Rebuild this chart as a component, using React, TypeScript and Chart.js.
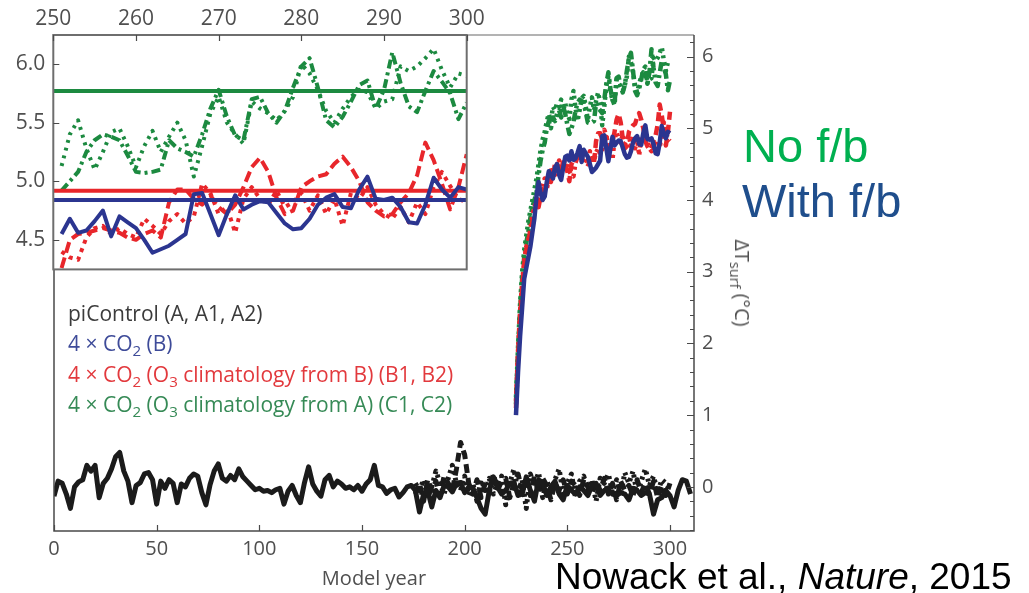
import React, { useEffect, useRef } from "react";
import { Chart, registerables } from "chart.js";

Chart.register(...registerables);

// ---------------- data ----------------
const yearsFrom = (start: number, count: number, step = 1) =>
  Array.from({ length: count }, (_, i) => start + i * step);

// piControl (A) — every 2 model years, 0..310
const PI_YEARS = yearsFrom(0, 156, 2);
const PI_A = [
  -0.13, 0.08, 0.05, -0.1, -0.3, 0.0, 0.07, 0.1, 0.3, 0.22,
  0.3, -0.15, 0.05, 0.12, 0.25, 0.42, 0.48, 0.22, 0.08, -0.22,
  0.02, 0.06, 0.18, 0.2, 0.1, -0.24, 0.08, -0.02, 0.1, 0.05,
  -0.22, 0.04, 0.0, 0.12, 0.18, 0.15, -0.08, -0.25, 0.03, 0.22,
  0.32, 0.12, 0.08, 0.16, 0.1, 0.25, 0.14, 0.08, 0.02, -0.04,
  -0.02, -0.06, -0.05, -0.08, -0.04, -0.02, -0.24, -0.06, 0.02, -0.12,
  -0.22, 0.06, 0.28, 0.04, -0.06, -0.13, 0.1, 0.16, 0.0, 0.08,
  0.04, -0.02, 0.0, -0.04, 0.02, -0.06, 0.04, 0.1, 0.3, 0.02,
  0.0, -0.09, -0.04, -0.02, -0.14, -0.08, 0.0, 0.02, -0.05, -0.35,
  -0.1, -0.05, -0.28, -0.05, -0.15, 0.02, 0.0, -0.07, 0.05, 0.06,
  -0.08, 0.0, -0.02, -0.15, -0.3, -0.38, -0.05, 0.14, 0.0, -0.1,
  -0.05, 0.05, 0.06, -0.12, -0.1, 0.14, -0.05, -0.2, 0.1, 0.06,
  -0.12, 0.0, 0.08, -0.1, -0.18, 0.02, -0.05, -0.1, 0.0, -0.05,
  -0.12, 0.02, 0.05, -0.12, -0.05, -0.04, -0.1, -0.12, -0.08, -0.1,
  -0.18, -0.02, -0.05, -0.12, -0.08, -0.1, -0.38, -0.18, -0.15, -0.05,
  -0.12, -0.28, -0.05, 0.1, 0.08, -0.1,
];

// piControl A1 (dotted) and A2 (dashed) — every 2 years, 176..300
const PI_A12_YEARS = yearsFrom(176, 63, 2);
const PI_A1 = [
  0.05, -0.05, 0.1, -0.15, 0.0, 0.22, 0.05, -0.1, 0.12, 0.3,
  0.05, -0.05, 0.15, -0.12, 0.05, -0.2, 0.1, -0.05, 0.12, -0.1,
  0.05, 0.15, -0.25, 0.05, 0.25, -0.08, 0.1, -0.3, 0.18, 0.02,
  0.2, -0.15, 0.08, -0.05, 0.1, 0.25, -0.1, 0.05, 0.18, -0.15,
  0.08, 0.15, -0.05, 0.1, -0.2, 0.12, 0.05, 0.18, -0.08, 0.1,
  -0.12, 0.2, 0.05, 0.22, -0.1, 0.08, 0.25, 0.02, 0.15, -0.08,
  0.1, 0.05, -0.05,
];
const PI_A2 = [
  -0.1, 0.05, -0.2, 0.1, -0.05, 0.08, -0.12, 0.15, 0.05, -0.05,
  0.25, 0.62, 0.45, 0.05, -0.1, 0.1, -0.15, 0.05, -0.08, 0.18,
  -0.05, 0.08, 0.12, -0.15, 0.05, 0.18, -0.05, 0.08, -0.12, 0.15,
  -0.08, 0.12, 0.02, -0.18, 0.05, -0.05, 0.1, -0.1, 0.08, 0.02,
  -0.12, 0.1, 0.0, -0.1, 0.08, -0.05, 0.12, -0.1, 0.05, -0.18,
  0.08, -0.05, 0.02, -0.12, 0.1, -0.08, 0.05, -0.1, 0.08, -0.15,
  0.02, -0.12, 0.05,
];

// 4xCO2 runs: years 225..250 (main panel only) and 251..300 (main + inset)
const EARLY_YEARS = yearsFrom(225, 26);
const INSET_YEARS = yearsFrom(251, 50);

const B_EARLY = [1.0, 1.6, 2.1, 2.5, 2.9, 3.05, 3.2, 3.35, 3.55, 3.75, 4.05, 4.25, 4.1, 4.0, 4.05, 4.25, 4.4, 4.35, 4.3, 4.45, 4.5, 4.35, 4.28, 4.45, 4.6, 4.62];
const B_INSET = [
  4.55, 4.68, 4.56, 4.58, 4.66, 4.75, 4.53, 4.7, 4.65, 4.6,
  4.5, 4.39, 4.42, 4.45, 4.5, 4.55, 4.89, 4.9, 4.72, 4.54,
  4.72, 4.88, 4.76, 4.8, 4.83, 4.82, 4.73, 4.64, 4.59, 4.6,
  4.68, 4.8, 4.86, 4.89, 4.78, 4.77, 4.93, 5.04, 4.85, 4.84,
  4.86, 4.78, 4.65, 4.64, 4.8, 5.03, 4.93, 4.86, 4.95, 4.93,
];

const B1_EARLY = [1.1, 1.8, 2.35, 2.75, 3.1, 3.3, 3.45, 3.55, 3.7, 3.85, 3.95, 3.9, 4.05, 4.15, 4.1, 4.2, 4.35, 4.25, 4.4, 4.35, 4.5, 4.45, 4.4, 4.55, 4.5, 4.4];
const B1_INSET = [
  4.26, 4.5, 4.55, 4.56, 4.58, 4.6, 4.58, 4.56, 4.52, 4.5,
  4.55, 4.58, 4.52, 4.82, 4.93, 4.93, 4.85, 4.8, 4.88, 4.78,
  4.72, 4.8, 4.95, 5.12, 5.2, 5.08, 4.86, 4.72, 4.75, 4.95,
  5.0, 5.04, 5.06, 5.15, 5.21, 5.12, 5.0, 4.82, 4.75, 4.7,
  4.72, 4.82, 4.9, 5.05, 5.33, 5.18, 4.98, 4.76, 4.95, 5.23,
];
const B2_EARLY = [1.2, 1.9, 2.45, 2.85, 3.15, 3.35, 3.4, 3.6, 3.8, 3.9, 4.0, 4.1, 3.95, 4.2, 4.3, 4.15, 4.3, 4.45, 4.35, 4.5, 4.4, 4.55, 4.5, 4.45, 4.6, 4.45];
const B2_INSET = [
  4.4, 4.35, 4.33, 4.52, 4.6, 4.62, 4.55, 4.6, 4.55, 4.52,
  4.68, 4.62, 4.55, 4.66, 4.72, 4.64, 4.7, 4.98, 4.9, 4.72,
  4.78, 4.56, 4.85, 4.95, 4.85, 4.8, 4.92, 4.78, 4.82, 4.9,
  4.75, 4.88, 4.72, 4.85, 4.62, 4.9, 4.85, 4.95, 4.8, 4.72,
  4.68, 4.78, 4.65, 4.82, 4.72, 4.95, 5.08, 4.96, 4.85, 4.82,
];

const C1_EARLY = [1.15, 1.85, 2.45, 2.9, 3.2, 3.4, 3.55, 3.75, 3.9, 4.0, 4.1, 4.35, 4.55, 4.7, 4.8, 5.0, 5.1, 5.0, 5.15, 5.1, 5.2, 5.25, 5.15, 5.3, 5.2, 5.05];
const C1_INSET = [
  4.92, 5.0, 5.08, 5.25, 5.35, 5.4, 5.38, 5.35, 5.22, 5.08,
  5.07, 5.08, 5.1, 5.35, 5.28, 5.25, 5.21, 5.4, 5.62, 5.78,
  5.55, 5.39, 5.35, 5.7, 5.72, 5.58, 5.5, 5.6, 5.8, 5.98,
  6.05, 5.8, 5.52, 5.46, 5.55, 5.68, 5.82, 5.86, 5.62, 5.78,
  6.1, 5.84, 5.64, 5.59, 5.77, 5.94, 5.85, 5.75, 5.53, 5.67,
];
const C2_EARLY = [1.25, 1.95, 2.55, 3.0, 3.3, 3.5, 3.7, 3.85, 4.0, 4.15, 4.3, 4.5, 4.7, 4.85, 4.95, 5.1, 5.2, 5.1, 5.3, 5.25, 5.35, 5.3, 5.4, 5.25, 5.35, 5.2];
const C2_INSET = [
  5.13, 5.4, 5.52, 5.28, 5.1, 5.25, 5.42, 5.45, 5.3, 5.12,
  5.3, 5.43, 5.25, 5.38, 5.5, 5.35, 5.04, 5.3, 5.58, 5.72,
  5.5, 5.4, 5.32, 5.68, 5.62, 5.58, 5.52, 5.6, 5.72, 6.0,
  5.92, 5.78, 5.6, 5.5, 5.62, 5.72, 5.78, 5.76, 5.62, 5.68,
  5.7, 5.98, 5.94, 5.98, 6.05, 6.13, 5.95, 5.8, 5.92, 5.9,
];

// inset means (years 250-300)
const MEAN_YEARS = [250, 300];
const MEAN_B = 4.84;
const MEAN_B12 = 4.92;
const MEAN_C12 = 5.77;

// ticks
const MAIN_X_TICKS = [0, 50, 100, 150, 200, 250, 300];
const MAIN_Y_TICKS = [0, 1, 2, 3, 4, 5, 6];
const INSET_X_TICKS = [250, 260, 270, 280, 290, 300];
const INSET_Y_TICKS = [4.5, 5.0, 5.5, 6.0];

// ---------------- style ----------------
const BLUE = "#2b3590";
const RED = "#e8262b";
const GREEN = "#1c8a40";
const BLACK = "#1b1b1b";
const TICK_FONT = "'Open Sans', 'Noto Sans', sans-serif";
const TICK_COLOR = "#4f4f4f";

const zip = (xs: number[], ys: number[]) => ys.map((y, i) => ({ x: xs[i], y }));

const mainFrame = {
  id: "mainFrame",
  afterDatasetsDraw(chart: any) {
    const { ctx, chartArea: a, scales } = chart;
    const x = scales.x;
    const y = scales.y;
    ctx.save();
    ctx.lineWidth = 1.5;
    ctx.strokeStyle = "#9a9a9a";
    ctx.beginPath();
    ctx.moveTo(a.left, a.top);
    ctx.lineTo(a.right, a.top);
    ctx.stroke();
    ctx.strokeStyle = "#4a4a4a";
    ctx.beginPath();
    ctx.moveTo(a.left, a.top);
    ctx.lineTo(a.left, a.bottom);
    ctx.lineTo(a.right, a.bottom);
    ctx.lineTo(a.right, a.top);
    ctx.stroke();
    ctx.lineWidth = 1.2;
    ctx.beginPath();
    MAIN_X_TICKS.forEach((v) => {
      const px = Math.round(x.getPixelForValue(v)) + 0.5;
      ctx.moveTo(px, a.bottom);
      ctx.lineTo(px, a.bottom - 6);
    });
    for (let i = -3; i <= 31; i++) {
      const v = i / 5;
      if (v < y.min || v > y.max) continue;
      const py = Math.round(y.getPixelForValue(v)) + 0.5;
      const len = i % 5 === 0 ? 7 : 4;
      ctx.moveTo(a.right, py);
      ctx.lineTo(a.right - len, py);
    }
    ctx.stroke();
    ctx.restore();
  },
};

const insetFrame = {
  id: "insetFrame",
  beforeDatasetsDraw(chart: any) {
    const { ctx, chartArea: a } = chart;
    ctx.save();
    ctx.fillStyle = "#ffffff";
    ctx.fillRect(a.left, a.top, a.right - a.left, a.bottom - a.top);
    ctx.restore();
  },
  afterDatasetsDraw(chart: any) {
    const { ctx, chartArea: a, scales } = chart;
    ctx.save();
    ctx.lineWidth = 2;
    ctx.strokeStyle = "#6e6e6e";
    ctx.strokeRect(a.left, a.top, a.right - a.left, a.bottom - a.top);
    ctx.lineWidth = 1.2;
    ctx.strokeStyle = "#4a4a4a";
    ctx.beginPath();
    INSET_X_TICKS.forEach((v) => {
      const px = Math.round(scales.x.getPixelForValue(v)) + 0.5;
      ctx.moveTo(px, a.top);
      ctx.lineTo(px, a.top + 6);
    });
    INSET_Y_TICKS.forEach((v) => {
      const py = Math.round(scales.y.getPixelForValue(v)) + 0.5;
      ctx.moveTo(a.left, py);
      ctx.lineTo(a.left + 6, py);
    });
    ctx.stroke();
    ctx.restore();
  },
};

const line = (data: any[], color: string, dash: number[] = [], width = 4) => ({
  data,
  borderColor: color,
  borderWidth: width,
  borderDash: dash,
  pointRadius: 0,
  tension: 0,
  fill: false,
  borderJoinStyle: "round" as const,
});

export default function App() {
  const mainRef = useRef<HTMLCanvasElement>(null);
  const insetRef = useRef<HTMLCanvasElement>(null);

  useEffect(() => {
    const co2Years = [...EARLY_YEARS, ...INSET_YEARS];
    const main = new Chart(mainRef.current as HTMLCanvasElement, {
      type: "line",
      data: {
        datasets: [
          line(zip(co2Years, [...B_EARLY, ...B_INSET]), BLUE, [], 4.5),
          line(zip(co2Years, [...B1_EARLY, ...B1_INSET]), RED, [9, 5], 4.5),
          line(zip(co2Years, [...B2_EARLY, ...B2_INSET]), RED, [3, 4], 4.5),
          line(zip(co2Years, [...C1_EARLY, ...C1_INSET]), GREEN, [9, 4, 3, 4], 4.5),
          line(zip(co2Years, [...C2_EARLY, ...C2_INSET]), GREEN, [3, 4], 4.5),
          line(zip(PI_YEARS, PI_A), BLACK, [], 5),
          line(zip(PI_A12_YEARS, PI_A1), BLACK, [3, 4], 5),
          line(zip(PI_A12_YEARS, PI_A2), BLACK, [9, 5], 5),
        ] as any,
      },
      options: {
        responsive: false,
        animation: false,
        events: [],
        layout: { padding: { left: 54, top: 35, right: 0, bottom: 0 } },
        plugins: { legend: { display: false }, tooltip: { enabled: false } },
        scales: {
          x: {
            type: "linear",
            position: "bottom",
            min: 0,
            max: 311.7,
            afterFit: (s: any) => {
              s.height = 62;
            },
            afterBuildTicks: (s: any) => {
              s.ticks = MAIN_X_TICKS.map((v) => ({ value: v }));
            },
            grid: { display: false, drawTicks: false },
            border: { display: false },
            ticks: {
              padding: 6,
              autoSkip: false,
              maxRotation: 0,
              color: TICK_COLOR,
              font: { family: TICK_FONT, size: 20 },
              callback: (v: any) => String(v),
            },
          },
          y: {
            type: "linear",
            position: "right",
            min: -0.615,
            max: 6.3,
            afterFit: (s: any) => {
              s.width = 335;
            },
            afterBuildTicks: (s: any) => {
              s.ticks = MAIN_Y_TICKS.map((v) => ({ value: v }));
            },
            grid: { display: false, drawTicks: false },
            border: { display: false },
            ticks: {
              padding: 8,
              color: TICK_COLOR,
              font: { family: TICK_FONT, size: 20 },
              callback: (v: any) => String(v),
            },
          },
        },
      } as any,
      plugins: [mainFrame],
    });

    const inset = new Chart(insetRef.current as HTMLCanvasElement, {
      type: "line",
      data: {
        datasets: [
          line(zip(INSET_YEARS, B_INSET), BLUE),
          line(zip(MEAN_YEARS, [MEAN_B, MEAN_B]), BLUE),
          line(zip(MEAN_YEARS, [MEAN_B12, MEAN_B12]), RED),
          line(zip(MEAN_YEARS, [MEAN_C12, MEAN_C12]), GREEN),
          line(zip(INSET_YEARS, B1_INSET), RED, [11, 5]),
          line(zip(INSET_YEARS, B2_INSET), RED, [4, 5]),
          line(zip(INSET_YEARS, C1_INSET), GREEN, [9, 4, 3, 4]),
          line(zip(INSET_YEARS, C2_INSET), GREEN, [3, 5]),
        ] as any,
      },
      options: {
        responsive: false,
        animation: false,
        events: [],
        layout: { padding: { left: 0, top: 0, right: 33.3, bottom: 7 } },
        plugins: { legend: { display: false }, tooltip: { enabled: false } },
        scales: {
          x: {
            type: "linear",
            position: "top",
            min: 250,
            max: 300,
            afterFit: (s: any) => {
              s.height = 35;
            },
            afterBuildTicks: (s: any) => {
              s.ticks = INSET_X_TICKS.map((v) => ({ value: v }));
            },
            grid: { display: false, drawTicks: false },
            border: { display: false },
            ticks: {
              padding: 3,
              autoSkip: false,
              maxRotation: 0,
              color: TICK_COLOR,
              font: { family: TICK_FONT, size: 21 },
              callback: (v: any) => String(v),
            },
          },
          y: {
            type: "linear",
            position: "left",
            min: 4.248,
            max: 6.248,
            afterFit: (s: any) => {
              s.width = 53.3;
            },
            afterBuildTicks: (s: any) => {
              s.ticks = INSET_Y_TICKS.map((v) => ({ value: v }));
            },
            grid: { display: false, drawTicks: false },
            border: { display: false },
            ticks: {
              padding: 8,
              color: TICK_COLOR,
              font: { family: TICK_FONT, size: 21 },
              callback: (v: any) => Number(v).toFixed(1),
            },
          },
        },
      } as any,
      plugins: [insetFrame],
    });

    return () => {
      main.destroy();
      inset.destroy();
    };
  }, []);

  const legendStyle: React.CSSProperties = {
    position: "absolute",
    left: 68,
    top: 298,
    fontFamily: TICK_FONT,
    fontSize: 21,
    lineHeight: "30.3px",
    whiteSpace: "nowrap",
  };
  const sub: React.CSSProperties = { fontSize: "0.72em", verticalAlign: "-0.35em", lineHeight: 0 };

  return (
    <div style={{ position: "absolute", left: 0, top: 0, width: 1029, height: 593, background: "#ffffff", overflow: "hidden" }}>
      <canvas ref={mainRef} width={1029} height={593} style={{ position: "absolute", left: 0, top: 0 }} />
      <canvas ref={insetRef} width={500} height={290} style={{ position: "absolute", left: 0, top: 0 }} />
      <div style={legendStyle}>
        <div style={{ color: "#3b3b3b" }}>piControl (A, A1, A2)</div>
        <div style={{ color: "#3e4b99" }}>
          4 × CO<span style={sub}>2</span> (B)
        </div>
        <div style={{ color: "#e2393d" }}>
          4 × CO<span style={sub}>2</span> (O<span style={sub}>3</span> climatology from B) (B1, B2)
        </div>
        <div style={{ color: "#368a56" }}>
          4 × CO<span style={sub}>2</span> (O<span style={sub}>3</span> climatology from A) (C1, C2)
        </div>
      </div>
      <div
        style={{
          position: "absolute",
          left: 274,
          width: 200,
          top: 566,
          textAlign: "center",
          fontFamily: TICK_FONT,
          fontSize: 20,
          lineHeight: "24px",
          color: "#4f4f4f",
        }}
      >
        Model year
      </div>
      <div
        style={{
          position: "absolute",
          left: 742,
          top: 283,
          transform: "translate(-50%, -50%) rotate(90deg)",
          fontFamily: TICK_FONT,
          fontSize: 20,
          lineHeight: "24px",
          color: "#4f4f4f",
          whiteSpace: "nowrap",
        }}
      >
        ΔT<span style={sub}>surf</span> (°C)
      </div>
      <div
        style={{
          position: "absolute",
          left: 743,
          top: 122,
          fontFamily: "'Liberation Sans', Arial, sans-serif",
          fontSize: 47,
          lineHeight: "47px",
          color: "#00b050",
          whiteSpace: "nowrap",
        }}
      >
        No f/b
      </div>
      <div
        style={{
          position: "absolute",
          left: 742,
          top: 177,
          fontFamily: "'Liberation Sans', Arial, sans-serif",
          fontSize: 47,
          lineHeight: "47px",
          color: "#1f4e8c",
          whiteSpace: "nowrap",
        }}
      >
        With f/b
      </div>
      <div
        style={{
          position: "absolute",
          left: 555,
          top: 558,
          fontFamily: "'Liberation Sans', Arial, sans-serif",
          fontSize: 37,
          lineHeight: "37px",
          color: "#000000",
          whiteSpace: "nowrap",
        }}
      >
        Nowack et al., <i>Nature</i>, 2015
      </div>
    </div>
  );
}
